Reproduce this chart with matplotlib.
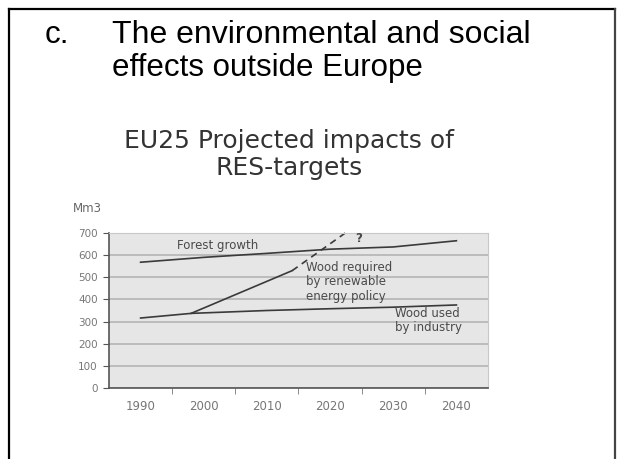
import matplotlib.pyplot as plt
from matplotlib.lines import Line2D

# data (Mm3)
years = [1990, 2000, 2010, 2020, 2030, 2040]
tick_labels = ["1990", "2000", "2010", "2020", "2030", "2040"]
y_ticks = [0, 100, 200, 300, 400, 500, 600, 700]

forest_years = [1990, 2000, 2010, 2020, 2030, 2040]
forest_growth = [568, 590, 608, 627, 637, 665]

industry_years = [1990, 1998, 2010, 2020, 2030, 2040]
wood_industry = [316, 337, 350, 358, 365, 375]

res_years = [1998, 2014]
wood_res = [337, 530]
res_proj_years = [2014, 2023]
wood_res_proj = [530, 712]

W, H = 617, 459
fig = plt.figure(figsize=(W / 100, H / 100), dpi=100)
fig.patch.set_facecolor("white")
plt.rcParams["font.family"] = ["Liberation Sans", "DejaVu Sans"]
small = ["DejaVu Sans"]


def fx(px):
    return px / W


def fy(py):
    return 1 - py / H


# slide border
for xs, ys, c in [([9, 615], [9, 9], "black"), ([9, 9], [9, 459], "black"),
                  ([615, 615], [9, 459], "#444444")]:
    fig.add_artist(Line2D([fx(x) for x in xs], [fy(y) for y in ys],
                          color=c, lw=1.6, transform=fig.transFigure))

# slide heading
fig.text(fx(45), fy(43), "c.", fontsize=22.5, color="black", va="baseline")
fig.text(fx(112), fy(43), "The environmental and social", fontsize=23,
         color="black", va="baseline")
fig.text(fx(112), fy(76), "effects outside Europe", fontsize=22.5,
         color="black", va="baseline")

# chart title
fig.text(fx(289), fy(148), "EU25 Projected impacts of", fontsize=18,
         family=small, color="#333333", ha="center", va="baseline")
fig.text(fx(289), fy(175), "RES-targets", fontsize=18, family=small,
         color="#333333", ha="center", va="baseline")

ax = fig.add_axes([fx(109), fy(388), fx(488) - fx(109), fy(233) - fy(388)])
ax.set_facecolor("#e6e6e6")
ax.set_xlim(1985, 2045)
ax.set_ylim(0, 700)
ax.set_yticks(y_ticks)
ax.set_yticklabels([str(v) for v in y_ticks], fontsize=7.5, family=small,
                   color="#777777")
ax.set_xticks(years)
ax.set_xticklabels(tick_labels, fontsize=8.5, family=small, color="#777777")
ax.set_xticks([1995, 2005, 2015, 2025, 2035], minor=True)
ax.tick_params(axis="x", which="major", length=0, pad=9)
ax.tick_params(axis="x", which="minor", length=4, color="#777777", direction="out")
ax.tick_params(axis="y", length=4, color="#555555", direction="out", pad=4)
ax.grid(axis="y", color="#b4b4b4", lw=1.2)
ax.set_axisbelow(True)
for s in ["top", "right"]:
    ax.spines[s].set_color("#c8c8c8")
for s in ["left", "bottom"]:
    ax.spines[s].set_color("#555555")
    ax.spines[s].set_linewidth(1.2)

lc = "#3a3a3a"
ax.plot(forest_years, forest_growth, color=lc, lw=1.2)
ax.plot(industry_years, wood_industry, color=lc, lw=1.2)
ax.plot(res_years, wood_res, color=lc, lw=1.2)
ax.plot(res_proj_years, wood_res_proj, color=lc, lw=1.2, ls=(0, (4, 3)),
        clip_on=False)

tc = "#4a4a4a"
ax.text(1995.8, 643, "Forest growth", fontsize=8.5, family=small, color=tc,
        va="center")
ax.text(2024.0, 673, "?", fontsize=8.5, family=small, color=tc, va="center",
        fontweight="bold")
ax.text(2016.2, 574, "Wood required\nby renewable\nenergy policy", fontsize=8.5,
        family=small, color=tc, va="top", linespacing=1.15)
ax.text(2030.2, 367, "Wood used\nby industry", fontsize=8.5, family=small,
        color=tc, va="top", linespacing=1.15)

fig.text(fx(87), fy(208), "Mm3", fontsize=8.5, family=small, color="#666666",
         ha="center", va="center")

fig.savefig("out.png", dpi=100)
